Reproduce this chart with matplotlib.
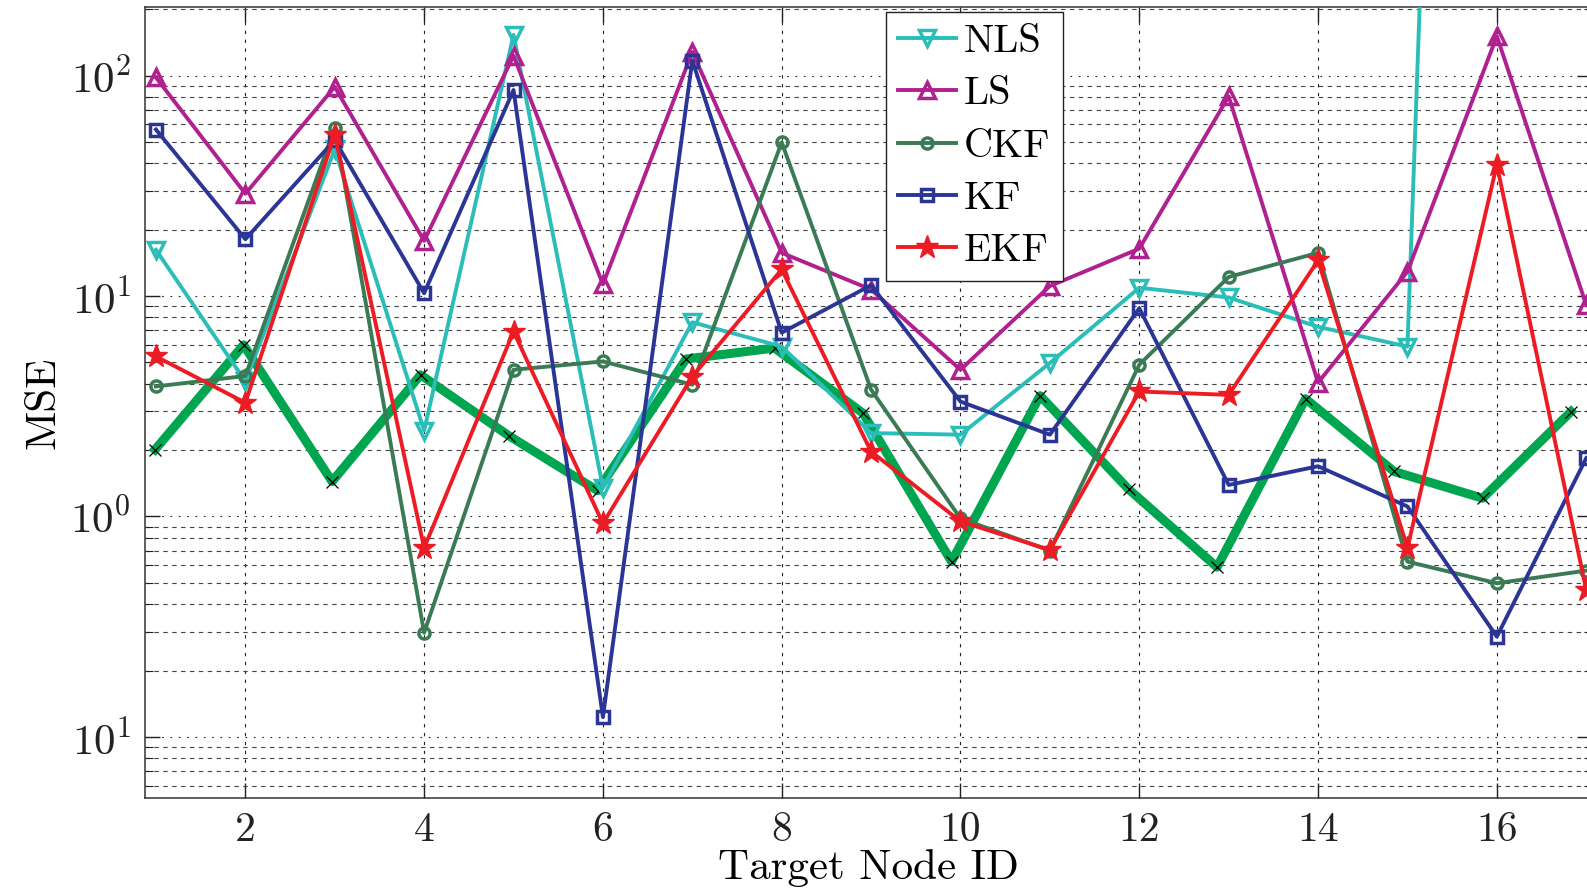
import matplotlib
matplotlib.use("Agg")
import matplotlib.pyplot as plt
from matplotlib.ticker import FixedLocator, FixedFormatter, LogLocator, NullFormatter

plt.rcParams['font.family'] = ['cmr10', 'DejaVu Serif']
plt.rcParams['mathtext.fontset'] = 'cm'
plt.rcParams['axes.unicode_minus'] = False

# data
node_id = [1, 2, 3, 4, 5, 6, 7, 8, 9, 10, 11, 12, 13, 14, 15, 16, 17]

nls = [16.2, 4.1, 46.2, 2.45, 153, 1.35, 7.6, 5.9, 2.39, 2.35, 4.97, 10.9, 9.85, 7.25, 5.9, 1.2e12, 8e11]
ls = [98.0, 29.1, 88.9, 17.8, 123, 11.3, 128, 15.7, 10.7, 4.63, 11.1, 16.4, 80.5, 4.05, 12.9, 151, 9.1]
ckf = [3.89, 4.34, 57.9, 0.297, 4.63, 5.05, 3.96, 49.8, 3.76, 0.98, 0.70, 4.88, 12.2, 15.7, 0.624, 0.498, 0.568]
kf = [56.9, 18.1, 51.0, 10.3, 86.0, 0.123, 117, 6.82, 11.2, 3.32, 2.35, 8.8, 1.39, 1.69, 1.11, 0.285, 1.84]
ekf = [5.32, 3.28, 54.0, 0.72, 6.9, 0.93, 4.31, 13.2, 1.97, 0.95, 0.705, 3.69, 3.56, 14.5, 0.72, 39.4, 0.464]

# thick green curve (plotted at slightly shifted x)
prop_x = [0.99, 1.98, 2.97, 3.96, 4.95, 5.94, 6.93, 7.92, 8.91, 9.90,
          10.89, 11.88, 12.87, 13.86, 14.85, 15.84, 16.83]
prop = [2.01, 6.0, 1.44, 4.39, 2.32, 1.31, 5.18, 5.81, 2.94, 0.624,
        3.53, 1.33, 0.589, 3.42, 1.60, 1.21, 2.99]

x_ticks = [2, 4, 6, 8, 10, 12, 14, 16]
y_ticks = [0.1, 1, 10, 100]
y_ticklabels = ['$10^{1}$', '$10^{0}$', '$10^{1}$', '$10^{2}$']

fig = plt.figure(figsize=(15.87, 8.91), dpi=100)
ax = fig.add_axes([0.0914, 0.1047, 0.9115, 0.8871])

ax.plot(prop_x, prop, color='#00a550', lw=6.5, marker='x', ms=9, mec='black',
        mew=0.9, zorder=3)

ax.plot(node_id, nls, color='#2bbdb8', lw=2.8, marker='v', ms=12, mfc='none', mew=2.5, label='NLS', zorder=4)
ax.plot(node_id, ls, color='#b0208f', lw=2.8, marker='^', ms=12, mfc='none', mew=2.5, label='LS', zorder=4)
ax.plot(node_id, ckf, color='#3a7b55', lw=2.8, marker='o', ms=8, mfc='none', mew=2.5, label='CKF', zorder=4)
ax.plot(node_id, kf, color='#2b3595', lw=2.8, marker='s', ms=8, mfc='none', mew=2.5, label='KF', zorder=4)
ax.plot(node_id, ekf, color='#ed1c24', lw=2.8, marker='*', ms=17, mew=1, label='EKF', zorder=4)

ax.set_yscale('log')
ax.set_xlim(0.878, 17.06)
ax.set_ylim(0.053, 204)

ax.xaxis.set_major_locator(FixedLocator(x_ticks))
ax.yaxis.set_major_locator(FixedLocator(y_ticks))
ax.yaxis.set_major_formatter(FixedFormatter(y_ticklabels))
ax.yaxis.set_minor_locator(LogLocator(base=10, subs=[2, 3, 4, 5, 6, 7, 8, 9]))
ax.yaxis.set_minor_formatter(NullFormatter())

ax.tick_params(which='both', direction='in', top=True, right=True,
               colors='#222222')
ax.tick_params(axis='x', labelsize=30, pad=10)
ax.tick_params(axis='y', labelsize=31, pad=10)
ax.tick_params(which='major', length=11, width=1)
ax.tick_params(which='minor', length=6, width=0.8)

ax.grid(True, axis='x', which='major', color='#222222', lw=0.8, ls=(0, (3, 5)))
ax.grid(True, axis='y', which='major', color='#222222', lw=0.8, ls=(0, (1.5, 6)))
ax.grid(True, axis='y', which='minor', color='#444444', lw=0.8, ls=(0, (4, 4)))
ax.set_axisbelow(True)

for s in ax.spines.values():
    s.set_color('#333333')
    s.set_linewidth(1.1)

ax.set_xlabel('Target Node ID', fontsize=31, labelpad=0)
ax.set_ylabel('MSE', fontsize=31, labelpad=6)

leg = ax.legend(loc='upper left', bbox_to_anchor=(0.512, 0.9944), borderaxespad=0,
                fontsize=29, fancybox=False, framealpha=1, edgecolor='#222222',
                handlelength=1.45, handletextpad=0.2, labelspacing=0.4, borderpad=0.3)
leg.get_frame().set_linewidth(1.0)

fig.savefig('out.png', dpi=100)
